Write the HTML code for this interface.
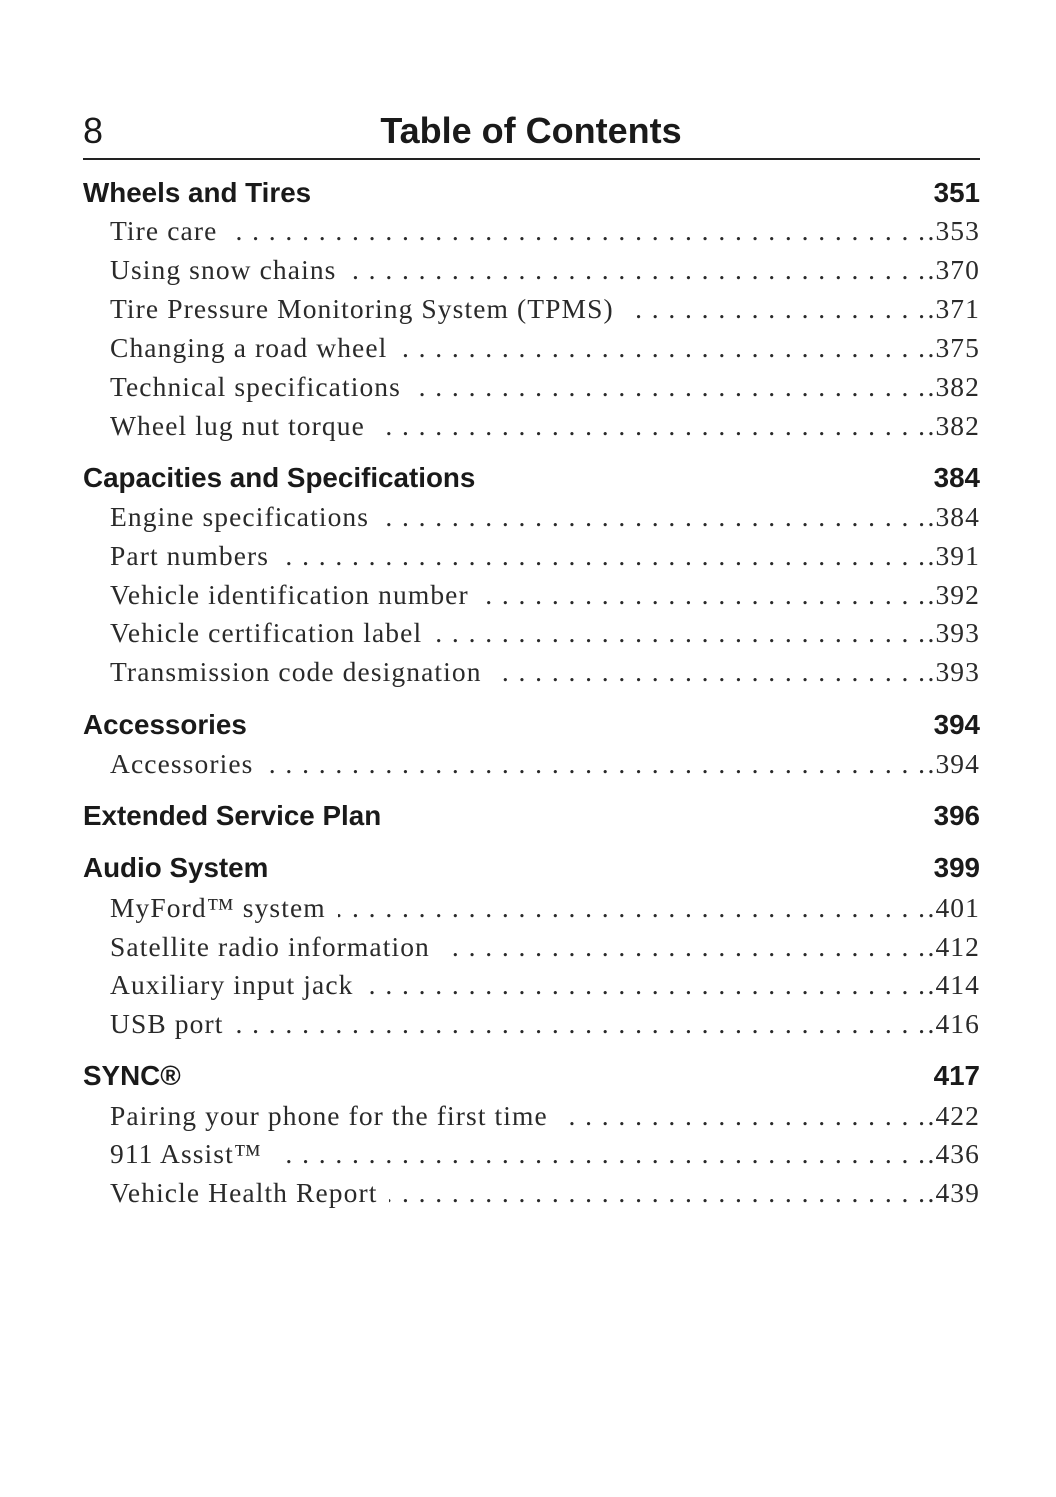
<!DOCTYPE html>
<html><head><style>
body{margin:0;width:1056px;height:1497px;background:#fff;position:relative;overflow:hidden}
.l{position:absolute;left:83px;width:897px;height:36px;line-height:36px;display:flex;white-space:nowrap}
.h{font:bold 27.8px "Liberation Sans",sans-serif;color:#1a1a1a;justify-content:space-between;margin-top:2px}
.e{font:27.5px "Liberation Serif",serif;letter-spacing:1.1px;color:#2a2a2a;left:110px;width:870px;margin-top:2px}
.d{flex:1;overflow:hidden;direction:rtl;letter-spacing:1.45px;margin:0 1px 0 12px}
</style></head><body>
<div style="position:absolute;left:83px;top:110px;font:36px 'Liberation Sans',sans-serif;color:#1a1a1a">8</div>
<div style="position:absolute;left:0;width:1062px;text-align:center;top:110px;font:bold 36px 'Liberation Sans',sans-serif;color:#1a1a1a">Table of Contents</div>
<div style="position:absolute;left:83px;top:158px;width:897px;height:2px;background:#222"></div>
<div class="l h" style="top:175px"><span>Wheels and Tires</span><span>351</span></div>
<div class="l e" style="top:213px"><span>Tire care</span><span class="d">. . . . . . . . . . . . . . . . . . . . . . . . . . . . . . . . . . . . . . . . . . . . . . . . . . . . . .</span><span>.353</span></div>
<div class="l e" style="top:252px"><span>Using snow chains</span><span class="d">. . . . . . . . . . . . . . . . . . . . . . . . . . . . . . . . . . . . . . . . . . . . . . . . . . . . . .</span><span>.370</span></div>
<div class="l e" style="top:291px"><span>Tire Pressure Monitoring System (TPMS)</span><span class="d">. . . . . . . . . . . . . . . . . . . . . . . . . . . . . . . . . . . . . . . . . . . . . . . . . . . . . .</span><span>.371</span></div>
<div class="l e" style="top:330px"><span>Changing a road wheel</span><span class="d">. . . . . . . . . . . . . . . . . . . . . . . . . . . . . . . . . . . . . . . . . . . . . . . . . . . . . .</span><span>.375</span></div>
<div class="l e" style="top:369px"><span>Technical specifications</span><span class="d">. . . . . . . . . . . . . . . . . . . . . . . . . . . . . . . . . . . . . . . . . . . . . . . . . . . . . .</span><span>.382</span></div>
<div class="l e" style="top:408px"><span>Wheel lug nut torque</span><span class="d">. . . . . . . . . . . . . . . . . . . . . . . . . . . . . . . . . . . . . . . . . . . . . . . . . . . . . .</span><span>.382</span></div>
<div class="l h" style="top:460px"><span>Capacities and Specifications</span><span>384</span></div>
<div class="l e" style="top:499px"><span>Engine specifications</span><span class="d">. . . . . . . . . . . . . . . . . . . . . . . . . . . . . . . . . . . . . . . . . . . . . . . . . . . . . .</span><span>.384</span></div>
<div class="l e" style="top:538px"><span>Part numbers</span><span class="d">. . . . . . . . . . . . . . . . . . . . . . . . . . . . . . . . . . . . . . . . . . . . . . . . . . . . . .</span><span>.391</span></div>
<div class="l e" style="top:577px"><span>Vehicle identification number</span><span class="d">. . . . . . . . . . . . . . . . . . . . . . . . . . . . . . . . . . . . . . . . . . . . . . . . . . . . . .</span><span>.392</span></div>
<div class="l e" style="top:615px"><span>Vehicle certification label</span><span class="d">. . . . . . . . . . . . . . . . . . . . . . . . . . . . . . . . . . . . . . . . . . . . . . . . . . . . . .</span><span>.393</span></div>
<div class="l e" style="top:654px"><span>Transmission code designation</span><span class="d">. . . . . . . . . . . . . . . . . . . . . . . . . . . . . . . . . . . . . . . . . . . . . . . . . . . . . .</span><span>.393</span></div>
<div class="l h" style="top:707px"><span>Accessories</span><span>394</span></div>
<div class="l e" style="top:746px"><span>Accessories</span><span class="d">. . . . . . . . . . . . . . . . . . . . . . . . . . . . . . . . . . . . . . . . . . . . . . . . . . . . . .</span><span>.394</span></div>
<div class="l h" style="top:798px"><span>Extended Service Plan</span><span>396</span></div>
<div class="l h" style="top:850px"><span>Audio System</span><span>399</span></div>
<div class="l e" style="top:890px"><span>MyFord™ system</span><span class="d">. . . . . . . . . . . . . . . . . . . . . . . . . . . . . . . . . . . . . . . . . . . . . . . . . . . . . .</span><span>.401</span></div>
<div class="l e" style="top:929px"><span>Satellite radio information</span><span class="d">. . . . . . . . . . . . . . . . . . . . . . . . . . . . . . . . . . . . . . . . . . . . . . . . . . . . . .</span><span>.412</span></div>
<div class="l e" style="top:967px"><span>Auxiliary input jack</span><span class="d">. . . . . . . . . . . . . . . . . . . . . . . . . . . . . . . . . . . . . . . . . . . . . . . . . . . . . .</span><span>.414</span></div>
<div class="l e" style="top:1006px"><span>USB port</span><span class="d">. . . . . . . . . . . . . . . . . . . . . . . . . . . . . . . . . . . . . . . . . . . . . . . . . . . . . .</span><span>.416</span></div>
<div class="l h" style="top:1058px"><span>SYNC®</span><span>417</span></div>
<div class="l e" style="top:1098px"><span>Pairing your phone for the first time</span><span class="d">. . . . . . . . . . . . . . . . . . . . . . . . . . . . . . . . . . . . . . . . . . . . . . . . . . . . . .</span><span>.422</span></div>
<div class="l e" style="top:1136px"><span>911 Assist™</span><span class="d">. . . . . . . . . . . . . . . . . . . . . . . . . . . . . . . . . . . . . . . . . . . . . . . . . . . . . .</span><span>.436</span></div>
<div class="l e" style="top:1175px"><span>Vehicle Health Report</span><span class="d">. . . . . . . . . . . . . . . . . . . . . . . . . . . . . . . . . . . . . . . . . . . . . . . . . . . . . .</span><span>.439</span></div>
</body></html>
